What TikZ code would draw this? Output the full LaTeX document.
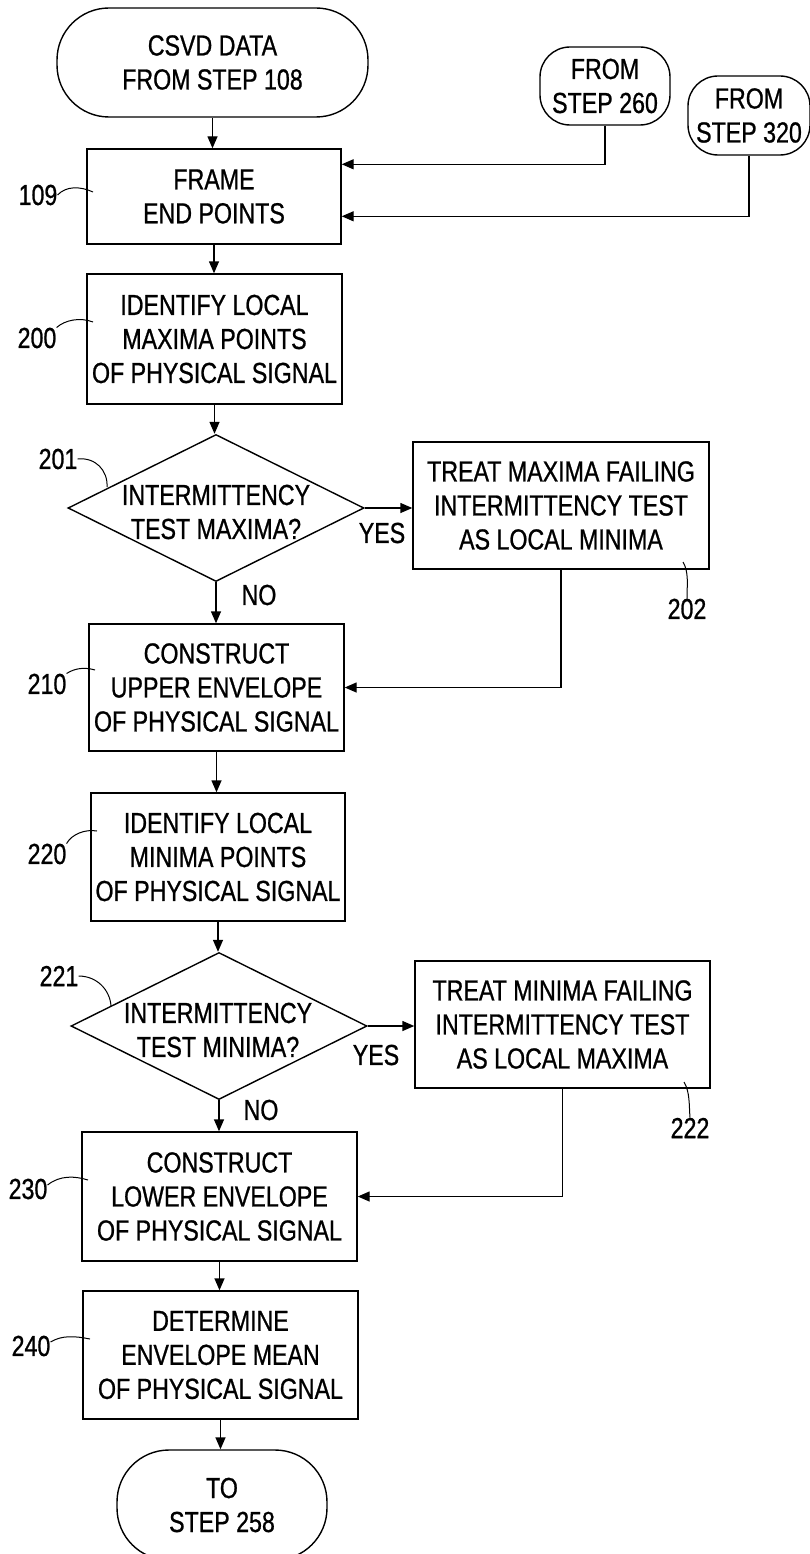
\documentclass[tikz,border=0pt]{standalone}
\usepackage{fontspec}
\setmainfont{Liberation Sans}[FakeStretch=0.8,FakeBold=0.8]
\usetikzlibrary{shapes.geometric,arrows.meta}
\begin{document}
\begin{tikzpicture}[x=1pt,y=-1pt,
  every node/.style={font=\fontsize{29}{34}\selectfont, align=center, inner sep=0pt},
  proc/.style={draw, line width=1.4pt, rectangle},
  term/.style={draw, line width=1.4pt, rectangle},
  dec/.style={draw, line width=1.4pt, diamond, inner sep=0pt},
  lbl/.style={font=\fontsize{29}{34}\selectfont},
  arr/.style={line width=1.4pt, -{Triangle[length=12pt,width=10pt]}},
  lead/.style={line width=1pt}]
\useasboundingbox (0,0) rectangle (810,1554);

% terminals
\node[term, minimum width=311pt, minimum height=109pt, rounded corners=52pt] (start) at (212.5,62.5) {CSVD DATA\\FROM STEP 108};
\node[term, minimum width=130pt, minimum height=78pt, rounded corners=30pt] (f260) at (605,86) {FROM\\STEP 260};
\node[term, minimum width=122pt, minimum height=79pt, rounded corners=30pt] (f320) at (749,115.5) {FROM\\STEP 320};

% process boxes
\node[proc, minimum width=254pt, minimum height=95pt] (b109) at (214,196.5) {FRAME\\END POINTS};
\node[proc, minimum width=255pt, minimum height=130pt] (b200) at (214.5,339) {IDENTIFY LOCAL\\MAXIMA POINTS\\OF PHYSICAL SIGNAL};
\node[dec, minimum width=296pt, minimum height=147pt] (d201) at (216,508) {};
\node (t201) at (216,512) {INTERMITTENCY\\TEST MAXIMA?};
\node[proc, minimum width=296pt, minimum height=127pt] (b202) at (561,505.5) {TREAT MAXIMA FAILING\\INTERMITTENCY TEST\\AS LOCAL MINIMA};
\node[proc, minimum width=255pt, minimum height=127pt] (b210) at (216.5,687.5) {CONSTRUCT\\UPPER ENVELOPE\\OF PHYSICAL SIGNAL};
\node[proc, minimum width=254pt, minimum height=128pt] (b220) at (218,857) {IDENTIFY LOCAL\\MINIMA POINTS\\OF PHYSICAL SIGNAL};
\node[dec, minimum width=296pt, minimum height=147pt] (d221) at (219,1026) {};
\node (t221) at (218,1030) {INTERMITTENCY\\TEST MINIMA?};
\node[proc, minimum width=295pt, minimum height=127pt] (b222) at (562.5,1024.5) {TREAT MINIMA FAILING\\INTERMITTENCY TEST\\AS LOCAL MAXIMA};
\node[proc, minimum width=275pt, minimum height=129pt] (b230) at (219.5,1196.5) {CONSTRUCT\\LOWER ENVELOPE\\OF PHYSICAL SIGNAL};
\node[proc, minimum width=275pt, minimum height=128pt] (b240) at (220.5,1355) {DETERMINE\\ENVELOPE MEAN\\OF PHYSICAL SIGNAL};
\node[term, minimum width=210pt, minimum height=110pt, rounded corners=52pt] (end) at (222,1505) {TO\\STEP 258};

% branch labels
\node (yes1) at (382,533) {YES};
\node (no1) at (259,595) {NO};
\node (yes2) at (376,1055) {YES};
\node (no2) at (261,1110) {NO};

% reference numerals
\node[lbl] (l109) at (38,195) {109};
\node[lbl] (l200) at (37,338) {200};
\node[lbl] (l201) at (58,459) {201};
\node[lbl] (l202) at (687,609) {202};
\node[lbl] (l210) at (47,684) {210};
\node[lbl] (l220) at (47,854) {220};
\node[lbl] (l221) at (59,976) {221};
\node[lbl] (l222) at (690,1128) {222};
\node[lbl] (l230) at (28,1189) {230};
\node[lbl] (l240) at (31,1346) {240};

% leaders
\draw[lead] (l109.east) .. controls (66,186) and (80,186) .. (93,192);
\draw[lead] (l200.north east) .. controls (65,320) and (80,317) .. (93,322);
\draw[lead] (l201.east) .. controls (95,457) and (108,470) .. (107,487);
\draw[lead] (683,562) .. controls (689,572) and (687,585) .. (l202.north);
\draw[lead] (l210.north east) .. controls (75,668) and (85,667) .. (95,670);
\draw[lead] (l220.north east) .. controls (72,834) and (85,829) .. (97,831);
\draw[lead] (l221.east) .. controls (97,976) and (110,990) .. (111,1006);
\draw[lead] (684,1082) .. controls (690,1092) and (689,1105) .. (l222.north);
\draw[lead] ([yshift=4pt]l230.east) .. controls (60,1175) and (75,1176) .. (88,1180);
\draw[lead] ([yshift=4pt]l240.east) .. controls (62,1335) and (75,1336) .. (90,1339);

% connectors
\draw[arr] (start.south) -- (start.south |- b109.north);
\draw[arr] (f260.south) |- ([yshift=-16pt]b109.north east);
\draw[arr] (f320.south) |- ([yshift=-68pt]b109.north east);
\draw[arr] (b109.south) -- (b109.south |- b200.north);
\draw[arr] (b200.south) -- (b200.south |- d201.north);
\draw[arr] (d201.east) -- (b202.west |- d201.east);
\draw[arr] (d201.south) -- (d201.south |- b210.north);
\draw[arr] (b202.south) |- (b210.east);
\draw[arr] (b210.south) -- (b210.south |- b220.north);
\draw[arr] (b220.south) -- (b220.south |- d221.north);
\draw[arr] (d221.east) -- (b222.west |- d221.east);
\draw[arr] (d221.south) -- (d221.south |- b230.north);
\draw[arr] (b222.south) |- (b230.east);
\draw[arr] (b230.south) -- (b230.south |- b240.north);
\draw[arr] (b240.south) -- (b240.south |- end.north);
\end{tikzpicture}
\end{document}
